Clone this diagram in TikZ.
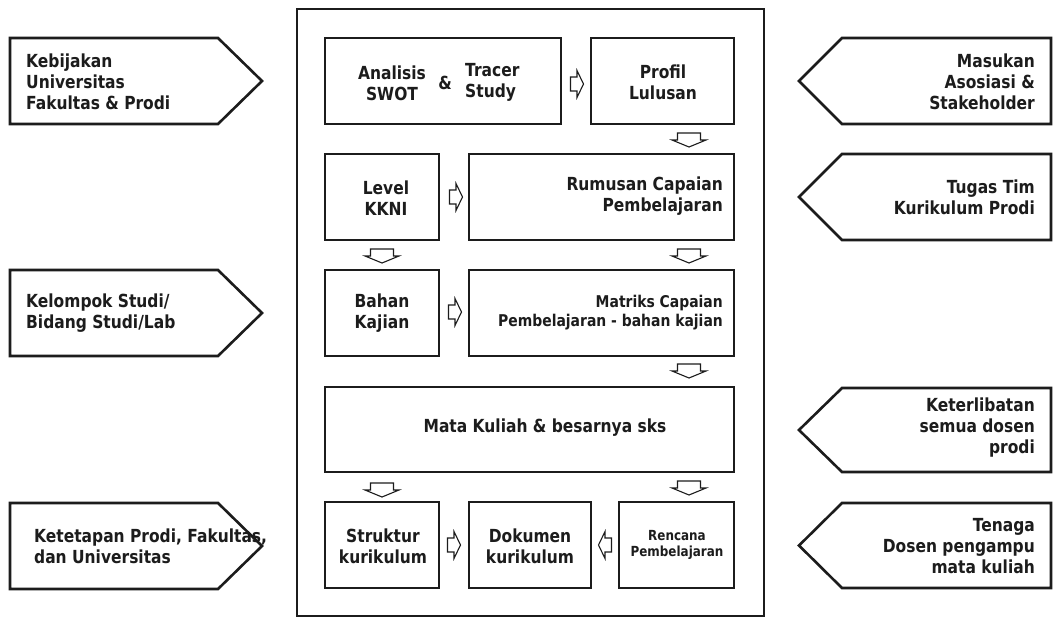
\documentclass[tikz,border=0pt]{standalone}
\usepackage{fontspec}
\setmainfont[FakeStretch=0.86]{DejaVu Sans}
\definecolor{ink}{HTML}{1C1C1C}
\begin{document}
\begin{tikzpicture}[x=1pt,y=-1pt,
  boxline/.style={draw=ink, line width=2.6pt},
  box/.style={boxline, inner sep=0pt, minimum width=#1},
  box/.default=114pt,
  lbl/.style={inner sep=0pt, text=ink, font=\fontsize{18}{21}\selectfont\bfseries},
  mlbl/.style={inner sep=0pt, text=ink, font=\fontsize{16.2}{19}\selectfont\bfseries},
  slbl/.style={inner sep=0pt, text=ink, font=\fontsize{13.9}{16}\selectfont\bfseries},
  arrline/.style={draw=ink, line width=1.1pt, line join=miter},
  pics/darr/.style={code={\draw[arrline] (-11.5,-7)--(11.5,-7)--(11.5,0)--(17,0)--(0,7)--(-17,0)--(-11.5,0)--cycle;}},
  pics/rarr/.style={code={\draw[arrline] (-6.5,-7)--(0,-7)--(0,-13.5)--(6.5,0)--(0,13.5)--(0,7)--(-6.5,7)--cycle;}},
  pics/larr/.style={code={\draw[arrline] (6.5,-7)--(0,-7)--(0,-13.5)--(-6.5,0)--(0,13.5)--(0,7)--(6.5,7)--cycle;}}
]
\useasboundingbox[fill=white] (0,0) rectangle (1056,619);

% outer frame
\node[boxline, inner sep=0pt, minimum width=467pt, minimum height=607pt] (frame) at (530.5,312.5) {};

% inner boxes
\node[box=236pt, minimum height=86pt] (swot) at (443,81) {};
\node[box=143pt, minimum height=86pt] (profil) at (662.5,81) {};
\node[box=114pt, minimum height=86pt] (level) at (382,197) {};
\node[box=265pt, minimum height=86pt] (rumusan) at (601.5,197) {};
\node[box=114pt, minimum height=86pt] (bahan) at (382,313) {};
\node[box=265pt, minimum height=86pt] (matriks) at (601.5,313) {};
\node[box=409pt, minimum height=85pt] (mata) at (529.5,429.5) {};
\node[box=114pt, minimum height=86pt] (struktur) at (382,545) {};
\node[box=122pt, minimum height=86pt] (dokumen) at (530,545) {};
\node[box=115pt, minimum height=86pt] (rencana) at (676.5,545) {};

% inner texts
\node[lbl, align=center] (tswot) at (392,83) {Analisis\\SWOT};
\node[lbl] (tamp) at (445,83) {\&};
\node[lbl, align=left, anchor=west] (ttracer) at (465,82) {Tracer\\Study};
\node[lbl, align=center] (tprofil) at (663,82) {Profil\\Lulusan};
\node[lbl, align=center] (tlevel) at (386,198) {Level\\KKNI};
\node[lbl, align=right, anchor=east] (trumusan) at (723,196) {Rumusan Capaian\\Pembelajaran};
\node[lbl, align=center] (tbahan) at (382,313) {Bahan\\Kajian};
\node[mlbl, align=right, anchor=east] (tmatriks) at (723,313) {Matriks Capaian\\Pembelajaran - bahan kajian};
\node[lbl] (tmata) at (545,428) {Mata Kuliah \& besarnya sks};
\node[lbl, align=center] (tstruktur) at (383,546) {Struktur\\kurikulum};
\node[lbl, align=center] (tdokumen) at (530,546) {Dokumen\\kurikulum};
\node[slbl, align=center] (trencana) at (677,545) {Rencana\\Pembelajaran};

% block arrows
\pic (a1) at (577,84) {rarr};
\pic (a2) at (689,140) {darr};
\pic (a3) at (456,197) {rarr};
\pic (a4) at (382,256) {darr};
\pic (a5) at (689,256) {darr};
\pic (a6) at (455,312) {rarr};
\pic (a7) at (689,371) {darr};
\pic (a8) at (382,490) {darr};
\pic (a9) at (689,488) {darr};
\pic (a10) at (454,545) {rarr};
\pic (a11) at (605,545) {larr};

% left pentagons
\draw[boxline, line join=miter] (10,38) -- (218,38) -- (262,81) -- (218,124) -- (10,124) -- cycle;
\draw[boxline, line join=miter] (10,270) -- (218,270) -- (262,313) -- (218,356) -- (10,356) -- cycle;
\draw[boxline, line join=miter] (10,503) -- (218,503) -- (262,546) -- (218,589) -- (10,589) -- cycle;
% right pentagons
\draw[boxline, line join=miter] (1051,38) -- (842,38) -- (799,81) -- (842,124) -- (1051,124) -- cycle;
\draw[boxline, line join=miter] (1051,154) -- (842,154) -- (799,197) -- (842,240) -- (1051,240) -- cycle;
\draw[boxline, line join=miter] (1051,388) -- (842,388) -- (799,430) -- (842,472) -- (1051,472) -- cycle;
\draw[boxline, line join=miter] (1051,503) -- (842,503) -- (799,545.5) -- (842,588) -- (1051,588) -- cycle;

% side texts
\node[lbl, align=left, anchor=west] (kebijakan) at (26,82) {Kebijakan\\Universitas\\Fakultas \& Prodi};
\node[lbl, align=left, anchor=west] (kelompok) at (26,313) {Kelompok Studi/\\Bidang Studi/Lab};
\node[lbl, align=left, anchor=west] (ketetapan) at (34,546) {Ketetapan Prodi, Fakultas,\\dan Universitas};
\node[lbl, align=right, anchor=east] (masukan) at (1035,82) {Masukan\\Asosiasi \&\\Stakeholder};
\node[lbl, align=right, anchor=east] (tugas) at (1035,197) {Tugas Tim\\Kurikulum Prodi};
\node[lbl, align=right, anchor=east] (keterlibatan) at (1035,428) {Keterlibatan\\semua dosen\\prodi};
\node[lbl, align=right, anchor=east] (tenaga) at (1035,546) {Tenaga\\Dosen pengampu\\mata kuliah};
\end{tikzpicture}
\end{document}
